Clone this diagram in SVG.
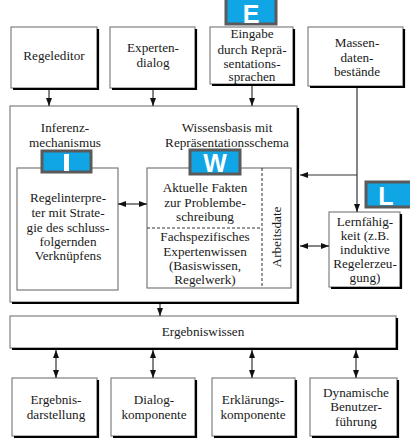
<svg xmlns="http://www.w3.org/2000/svg" width="410" height="441" viewBox="0 0 410 441">
  <style>
    .box { fill: #ffffff; stroke: #808080; stroke-width: 1.2; }
    .inner { fill: #ffffff; stroke: #7a7a7a; stroke-width: 1.2; }
    .shadow { fill: none; stroke: #000000; stroke-width: 2.2; }
    .dash { fill: none; stroke: #333333; stroke-width: 1; stroke-dasharray: 3 2; }
    .t { font-family: "Liberation Serif", "Times New Roman", serif; font-size: 13.2px; fill: #1a1a1a; text-anchor: middle; }
    .badge { fill: #10a6e6; stroke: #5a5a5a; stroke-width: 3; }
    .bl { font-family: "Liberation Sans", Arial, sans-serif; font-weight: bold; fill: #ffffff; text-anchor: middle; }
    .conn line { stroke: #333333; stroke-width: 1.2; fill: none; }
  </style>
  <defs>
    <marker id="ah" viewBox="0 0 8 6" refX="8" refY="3" markerWidth="8" markerHeight="6" markerUnits="userSpaceOnUse" orient="auto-start-reverse">
      <path d="M0,0 L8,3 L0,6 Z" fill="#111111"/>
    </marker>
  </defs>

  <!-- input boxes -->
  <g id="regeleditor">
    <rect class="box" x="11" y="27" width="86" height="61"/>
    <path class="shadow" d="M98,29 V89 H13"/>
    <text class="t" x="54" y="60">Regeleditor</text>
  </g>
  <g id="expertendialog">
    <rect class="box" x="110" y="27" width="85" height="61"/>
    <path class="shadow" d="M196,29 V89 H112"/>
    <text class="t" x="153" y="52">Experten-</text>
    <text class="t" x="153" y="67">dialog</text>
  </g>
  <g id="eingabe">
    <rect class="box" x="210" y="27" width="83" height="57"/>
    <path class="shadow" d="M294,29 V85 H212"/>
    <text class="t" x="252" y="38">Eingabe</text>
    <text class="t" x="252" y="54">durch Reprä-</text>
    <text class="t" x="252" y="67.5">sentations-</text>
    <text class="t" x="252" y="81">sprachen</text>
  </g>
  <g id="badge-e">
    <rect class="badge" x="226" y="-3" width="50" height="27"/>
    <text class="bl" x="251" y="23" font-size="25">E</text>
  </g>
  <g id="massendaten">
    <rect class="box" x="308" y="27" width="95" height="59"/>
    <path class="shadow" d="M404,29 V87 H310"/>
    <text class="t" x="357" y="47">Massen-</text>
    <text class="t" x="357" y="62">daten-</text>
    <text class="t" x="357" y="76">bestände</text>
  </g>

  <!-- expert system core -->
  <g id="kern">
    <rect class="box" x="10" y="106" width="287" height="196"/>
    <path class="shadow" d="M298,108 V303 H12"/>
  </g>
  <g id="inferenz">
    <text class="t" x="65" y="132">Inferenz-</text>
    <text class="t" x="65" y="147">mechanismus</text>
    <rect class="inner" x="17" y="168" width="101" height="122"/>
    <text class="t" x="68" y="202">Regelinterpre-</text>
    <text class="t" x="68" y="217">ter mit Strate-</text>
    <text class="t" x="68" y="232">gie des schluss-</text>
    <text class="t" x="68" y="246">folgernden</text>
    <text class="t" x="68" y="260">Verknüpfens</text>
  </g>
  <g id="badge-i">
    <rect class="badge" x="42" y="151" width="49" height="21"/>
    <rect x="64" y="154" width="5" height="17" fill="#ffffff"/>
  </g>
  <g id="wissensbasis">
    <text class="t" x="227" y="132">Wissensbasis mit</text>
    <text class="t" x="227" y="147">Repräsentationsschema</text>
    <rect class="inner" x="147" y="168" width="144" height="120"/>
    <line class="dash" x1="262" y1="168" x2="262" y2="288"/>
    <line class="dash" x1="147" y1="228" x2="262" y2="228"/>
    <text class="t" x="205" y="192">Aktuelle Fakten</text>
    <text class="t" x="205" y="207">zur Problembe-</text>
    <text class="t" x="205" y="221">schreibung</text>
    <text class="t" x="205" y="241">Fachspezifisches</text>
    <text class="t" x="205" y="256">Expertenwissen</text>
    <text class="t" x="205" y="270">(Basiswissen,</text>
    <text class="t" x="205" y="284">Regelwerk)</text>
    <text class="t" transform="translate(281,237) rotate(-90)">Arbeitsdate</text>
  </g>
  <g id="badge-w">
    <rect class="badge" x="190" y="150" width="50" height="24"/>
    <text class="bl" x="215" y="172" font-size="25" font-weight="normal">W</text>
  </g>

  <!-- learning -->
  <g id="lernfaehigkeit">
    <rect class="box" x="329" y="212" width="71" height="75"/>
    <path class="shadow" d="M401,214 V288 H331"/>
    <text class="t" x="365" y="226">Lernfähig-</text>
    <text class="t" x="365" y="240">keit (z.B.</text>
    <text class="t" x="365" y="254">induktive</text>
    <text class="t" x="365" y="268">Regelerzeu-</text>
    <text class="t" x="365" y="282">gung)</text>
  </g>
  <g id="badge-l">
    <rect class="badge" x="366" y="182" width="48" height="25"/>
    <text class="bl" x="386" y="205" font-size="25">L</text>
  </g>

  <!-- results -->
  <g id="ergebniswissen">
    <rect class="box" x="10" y="316" width="386" height="32"/>
    <path class="shadow" d="M397,318 V349 H12"/>
    <text class="t" x="203" y="336">Ergebniswissen</text>
  </g>
  <g id="ergebnisdarstellung">
    <rect class="box" x="12" y="378" width="85" height="58"/>
    <path class="shadow" d="M98,380 V437 H14"/>
    <text class="t" x="56" y="404">Ergebnis-</text>
    <text class="t" x="56" y="419">darstellung</text>
  </g>
  <g id="dialogkomponente">
    <rect class="box" x="111" y="378" width="84" height="58"/>
    <path class="shadow" d="M196,380 V437 H113"/>
    <text class="t" x="154" y="404">Dialog-</text>
    <text class="t" x="154" y="419">komponente</text>
  </g>
  <g id="erklaerungskomponente">
    <rect class="box" x="212" y="378" width="83" height="58"/>
    <path class="shadow" d="M296,380 V437 H214"/>
    <text class="t" x="253" y="404">Erklärungs-</text>
    <text class="t" x="253" y="419">komponente</text>
  </g>
  <g id="benutzerfuehrung">
    <rect class="box" x="310" y="378" width="87" height="58"/>
    <path class="shadow" d="M398,380 V437 H312"/>
    <text class="t" x="356" y="397">Dynamische</text>
    <text class="t" x="356" y="411">Benutzer-</text>
    <text class="t" x="356" y="426">führung</text>
  </g>

  <!-- connectors -->
  <g id="connectors" class="conn">
    <line x1="49" y1="90" x2="49" y2="106" marker-end="url(#ah)"/>
    <line x1="153" y1="90" x2="153" y2="106" marker-end="url(#ah)"/>
    <line x1="252" y1="86" x2="252" y2="106" marker-end="url(#ah)"/>
    <line x1="357" y1="88" x2="357" y2="212" marker-end="url(#ah)"/>
    <line x1="357" y1="175" x2="300" y2="175" marker-end="url(#ah)"/>
    <line x1="300" y1="246" x2="329" y2="246" marker-start="url(#ah)" marker-end="url(#ah)"/>
    <line x1="118" y1="204" x2="147" y2="204" marker-start="url(#ah)" marker-end="url(#ah)"/>
    <line x1="160" y1="304" x2="160" y2="316" marker-end="url(#ah)"/>
    <line x1="56" y1="350" x2="56" y2="378" marker-start="url(#ah)" marker-end="url(#ah)"/>
    <line x1="153" y1="350" x2="153" y2="378" marker-start="url(#ah)" marker-end="url(#ah)"/>
    <line x1="252" y1="350" x2="252" y2="378" marker-start="url(#ah)" marker-end="url(#ah)"/>
    <line x1="356" y1="350" x2="356" y2="378" marker-start="url(#ah)" marker-end="url(#ah)"/>
  </g>
</svg>
